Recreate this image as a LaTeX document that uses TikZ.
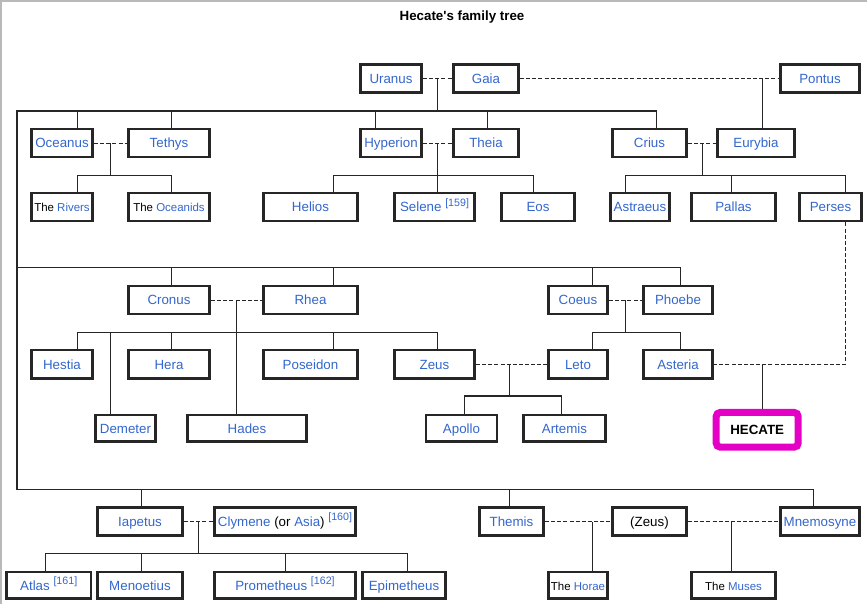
\documentclass[tikz,border=0pt]{standalone}
\usepackage{fontspec}
\setmainfont{Liberation Sans}
\definecolor{wlink}{HTML}{3366CC}
\definecolor{hecmag}{RGB}{228,0,196}
\newcommand{\blk}[1]{\textcolor{black}{#1}}
\newcommand{\refn}[1]{\raisebox{0.42em}{\fontsize{8}{8}\selectfont[#1]}}
\begin{document}
\begin{tikzpicture}[x=0.75pt,y=-0.75pt,font=\fontsize{10}{12}\selectfont]
\tikzset{
  person/.style={draw=black!85,line width=2pt,text=wlink,inner xsep=2pt,minimum height=21.2pt,
    text height=9pt,text depth=1.8pt},
  wd/.style={minimum width={(#1-2.7)*0.75pt}},
  low/.style={minimum height=19.9pt},
  sm/.style={font=\fontsize{8.6}{10}\selectfont},
  line/.style={line width=0.85pt,black!85},
  wed/.style={line,line width=0.75pt,dash pattern=on 3pt off 1.6pt}
}
\useasboundingbox (0,0) rectangle (867,604);
\draw[gray!55,line width=1.5pt] (1,604) -- (1,0.7) -- (867,0.7);
\node[text=black,font=\bfseries\fontsize{10}{12}\selectfont] (title) at (462,17) {Hecate\textquotesingle s family tree};

\node[person,wd=64] (uranus) at (391,78.5) {Uranus};
\node[person,wd=68] (gaia) at (486,78.5) {Gaia};
\node[person,wd=82] (pontus) at (820,78.5) {Pontus};

\node[person,wd=64] (oceanus) at (62,143) {Oceanus};
\node[person,wd=84] (tethys) at (169,143) {Tethys};
\node[person,wd=64] (hyperion) at (391,143) {Hyperion};
\node[person,wd=68] (theia) at (486,143) {Theia};
\node[person,wd=77] (crius) at (649.5,143) {Crius};
\node[person,wd=80] (eurybia) at (756,143) {Eurybia};

\node[person,sm,wd=64] (rivers) at (62,207) {\blk{The} Rivers};
\node[person,sm,wd=84] (oceanids) at (169,207) {\blk{The} Oceanids};
\node[person,wd=97] (helios) at (310.5,207) {Helios};
\node[person,wd=83] (selene) at (434.5,207) {Selene \refn{159}};
\node[person,wd=76] (eos) at (538,207) {Eos};
\node[person,wd=62] (astraeus) at (640,207) {Astraeus};
\node[person,wd=87] (pallas) at (733.5,207) {Pallas};
\node[person,wd=65] (perses) at (830.5,207) {Perses};

\node[person,wd=84] (cronus) at (169,300) {Cronus};
\node[person,wd=97] (rhea) at (310.5,300) {Rhea};
\node[person,wd=62] (coeus) at (578,300) {Coeus};
\node[person,wd=72] (phoebe) at (678,300) {Phoebe};

\node[person,wd=64] (hestia) at (62,364.2) {Hestia};
\node[person,wd=84] (hera) at (169,364.2) {Hera};
\node[person,wd=97] (poseidon) at (310.5,364.2) {Poseidon};
\node[person,wd=83] (zeus) at (434.5,364.2) {Zeus};
\node[person,wd=62] (leto) at (578,364.2) {Leto};
\node[person,wd=72] (asteria) at (678,364.2) {Asteria};

\node[person,low,wd=63] (demeter) at (125.5,428.3) {Demeter};
\node[person,low,wd=122] (hades) at (247,428.3) {Hades};
\node[person,low,wd=73.6] (apollo) at (461.5,428.3) {Apollo};
\node[person,low,wd=85] (artemis) at (564.5,428.3) {Artemis};
\node[draw=hecmag,line width=5.25pt,rounded corners=3pt,minimum width=61.5pt,minimum height=26pt,
  text height=9pt,text depth=1.8pt,font=\bfseries\fontsize{10}{12}\selectfont] (hecate) at (757.2,429.8) {HECATE};

\node[person,wd=88] (iapetus) at (140,521.5) {Iapetus};
\node[person,wd=144] (clymene) at (285,521.5) {Clymene \blk{(or} Asia\blk{)} \refn{160}};
\node[person,wd=67] (themis) at (511.5,521.5) {Themis};
\node[person,wd=77] (zeusb) at (649.5,521.5) {\blk{(Zeus)}};
\node[person,wd=82] (mnemosyne) at (820,521.5) {Mnemosyne};

\node[person,low,wd=87] (atlas) at (48.7,585.3) {Atlas \refn{161}};
\node[person,low,wd=88] (menoetius) at (140,585.3) {Menoetius};
\node[person,low,wd=144] (prometheus) at (285,585.3) {Prometheus \refn{162}};
\node[person,low,wd=86] (epimetheus) at (404,585.3) {Epimetheus};
\node[person,low,sm,wd=62] (horae) at (578,585.3) {\blk{The} Horae};
\node[person,low,sm,wd=87] (muses) at (733.5,585.3) {\blk{The} Muses};

\draw[wed] (uranus) -- (gaia) -- (pontus);
\draw[line] (437.7,0 |- gaia.west) -- (437.7,111);
\draw[line] (656.7,0 |- crius.north) |- (17,111) -- (17,489.3) -| (813.3,0 |- mnemosyne.north);
\draw[line] (17,267.3) -| (680.3,0 |- phoebe.north);
\foreach \x/\n/\y in {77.3/oceanus/111,171.3/tethys/111,375.3/hyperion/111,487.7/theia/111,
  171.3/cronus/267.3,333.3/rhea/267.3,592.3/coeus/267.3,141.3/iapetus/489.3,509.3/themis/489.3}
  \draw[line] (\x,\y) -- (\x,0 |- \n.north);

\draw[wed] (oceanus) -- (tethys);
\draw[line] (110.3,0 |- tethys.west) -- (110.3,175.3);
\draw[line] (77.3,0 |- rivers.north) |- (171.3,175.3) -- (171.3,0 |- oceanids.north);

\draw[wed] (hyperion) -- (theia);
\draw[line] (437.7,0 |- theia.west) -- (437.7,0 |- selene.north);
\draw[line] (333.3,0 |- helios.north) |- (533.3,175.3) -- (533.3,0 |- eos.north);

\draw[wed] (crius) -- (eurybia);
\draw[line] (762.3,0 |- pontus.west) -- (762.3,0 |- eurybia.north);
\draw[line] (702.3,0 |- eurybia.west) -- (702.3,175.3);
\draw[line] (625.3,0 |- astraeus.north) |- (845.3,175.3) -- (845.3,0 |- perses.north);
\draw[line] (731.3,175.3) -- (731.3,0 |- pallas.north);
\draw[wed] (845.3,0 |- perses.south) |- (asteria.east);
\draw[line] (762.3,0 |- asteria.east) -- (762.3,0 |- hecate.north);

\draw[wed] (cronus) -- (rhea);
\draw[line] (236.3,0 |- rhea.west) -- (236.3,0 |- hades.north);
\draw[line] (77.3,0 |- hestia.north) |- (437.7,332.3) -- (437.7,0 |- zeus.north);
\foreach \x/\n in {110.3/demeter,171.3/hera,333.3/poseidon}
  \draw[line] (\x,332.3) -- (\x,0 |- \n.north);

\draw[wed] (coeus) -- (phoebe);
\draw[line] (625.3,0 |- phoebe.west) -- (625.3,332.3);
\draw[line] (592.3,0 |- leto.north) |- (680.3,332.3) -- (680.3,0 |- asteria.north);

\draw[wed] (zeus) -- (leto);
\draw[line] (509.3,0 |- leto.west) -- (509.3,396);
\draw[line] (464.7,0 |- apollo.north) |- (561.3,396) -- (561.3,0 |- artemis.north);

\draw[wed] (iapetus) -- (clymene);
\draw[line] (198.7,0 |- clymene.west) -- (198.7,553.3);
\draw[line] (45.3,0 |- atlas.north) |- (407.3,553.3) -- (407.3,0 |- epimetheus.north);
\foreach \x/\n in {141.3/menoetius,285.3/prometheus}
  \draw[line] (\x,553.3) -- (\x,0 |- \n.north);

\draw[wed] (themis) -- (zeusb) -- (mnemosyne);
\draw[line] (592.3,0 |- zeusb.west) -- (592.3,0 |- horae.north);
\draw[line] (731.7,0 |- zeusb.east) -- (731.7,0 |- muses.north);
\end{tikzpicture}
\end{document}
